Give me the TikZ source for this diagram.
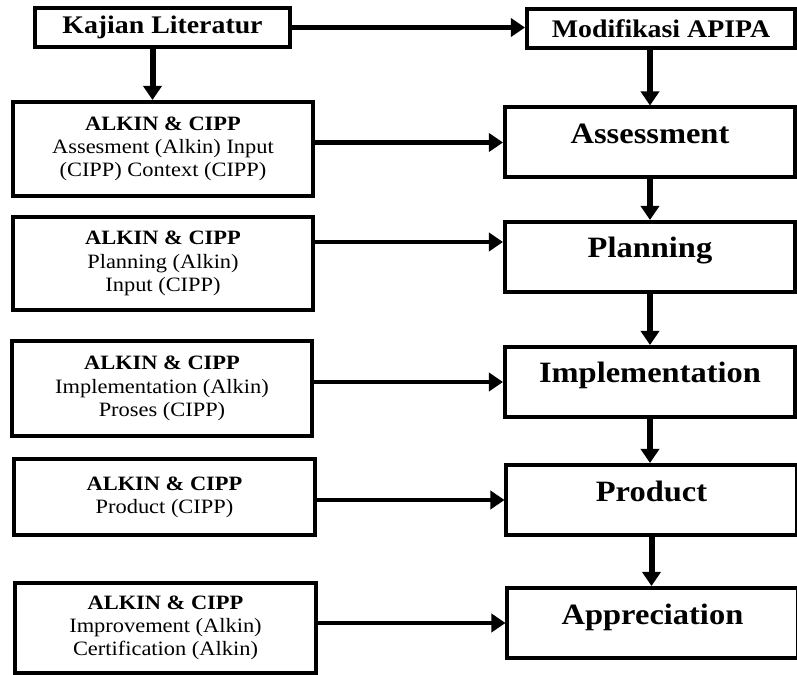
\documentclass[tikz,border=0pt]{standalone}
\usepackage{fontspec}
\setmainfont{Liberation Serif}[FakeStretch=1.1]
\usetikzlibrary{arrows.meta}

\tikzset{
  box/.style={draw, line width=0.8mm, rectangle, inner sep=0pt, align=center},
  topbox/.style={box, minimum height=7.8mm, font=\fontsize{14.4}{16}\selectfont\bfseries},
  leftbox/.style={box, minimum width=60mm, font=\fontsize{11.6}{13.2}\selectfont},
  stagebox/.style={box, minimum width=58mm, minimum height=14mm, text height=3.8mm, text depth=3.4mm, font=\fontsize{16.8}{18}\selectfont\bfseries},
  arr/.style={-{Triangle[length=2.8mm,width=3.6mm]}, line width=0.95mm},
  varr/.style={arr, line width=1.2mm},
}

\begin{document}
\begin{tikzpicture}[x=0.2mm, y=-0.2mm]
\useasboundingbox (0,0) rectangle (797,675);

% top row
\node[topbox, minimum width=51mm] (kajian) at (162.5,27.5) {Kajian Literatur};
\node[topbox, minimum width=53.6mm] (modif) at (661,29) {Modifikasi APIPA};

% left column
\node[leftbox, minimum height=18.8mm] (alkinA) at (163,149) {\textbf{ALKIN \& CIPP}\\Assesment (Alkin) Input\\(CIPP) Context (CIPP)};
\node[leftbox, minimum height=18.6mm] (alkinB) at (163,263.5) {\textbf{ALKIN \& CIPP}\\Planning (Alkin)\\Input (CIPP)};
\node[leftbox, minimum height=19mm] (alkinC) at (162,388.5) {\textbf{ALKIN \& CIPP}\\Implementation (Alkin)\\Proses (CIPP)};
\node[leftbox, minimum height=15.2mm] (alkinD) at (164.5,497) {\textbf{ALKIN \& CIPP}\\Product (CIPP)};
\node[leftbox, minimum height=18mm] (alkinE) at (165.5,628) {\textbf{ALKIN \& CIPP}\\Improvement (Alkin)\\Certification (Alkin)};

% right column
\node[stagebox] (assess) at (650,142.5) {Assessment};
\node[stagebox] (plan) at (650,257) {Planning};
\node[stagebox] (impl) at (650,382) {Implementation};
\node[stagebox] (prod) at (651.5,500) {Product};
\node[stagebox] (appr) at (652.5,623) {Appreciation};

\coordinate (planin) at ([yshift=3mm]plan.west);

% connectors
\draw[arr] (kajian.east) -- (kajian.east -| modif.west);
\draw[varr] ([xshift=-2mm]kajian.south) -- ([xshift=-2mm]kajian.south |- alkinA.north);
\draw[varr] (modif.south -| assess.north) -- (assess.north);
\foreach \a/\b in {assess/plan, plan/impl, impl/prod, prod/appr}
    \draw[varr] (\a.south) -- (\a.south |- \b.north);
\foreach \l/\r in {alkinA/assess, alkinC/impl, alkinD/prod, alkinE/appr}
    \draw[arr] (\l.east |- \r.west) -- (\r.west);
\draw[arr] (alkinB.east |- planin) -- (planin);
\end{tikzpicture}
\end{document}
